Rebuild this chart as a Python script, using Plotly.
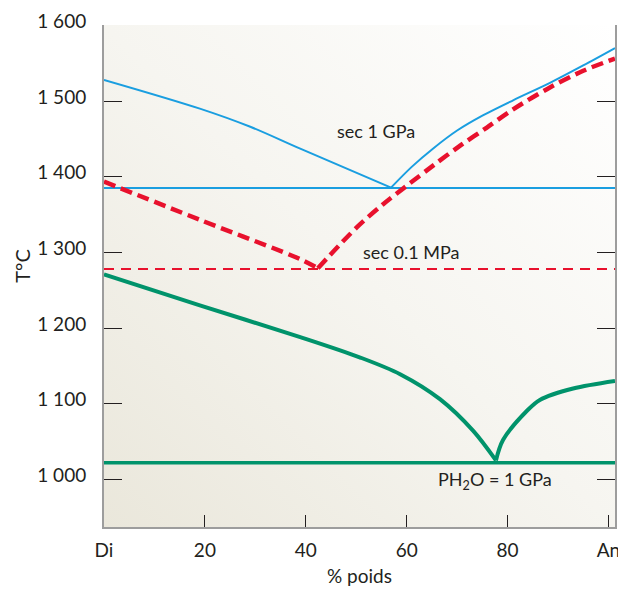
import base64
import plotly.graph_objects as go

# ---- data (x = % poids An, T = °C) ----
gpa_liq_left_x = [0, 19.0, 29.0, 38.9, 56.9]
gpa_liq_left_t = [1528, 1490, 1466, 1437, 1385.6]
gpa_liq_right_x = [56.9, 61.0, 65.2, 70.0, 75.1, 81.1, 88.4, 95.0, 101.3]
gpa_liq_right_t = [1385.6, 1413, 1437, 1461, 1481, 1501, 1524, 1547, 1570]
gpa_sol_x = [0, 101.3]
gpa_sol_t = [1385, 1385]

mpa_liq_left_x = [0, 19.0, 38.9, 42.4]
mpa_liq_left_t = [1393.5, 1343, 1291, 1279]
mpa_liq_right_x = [42.4, 50.1, 55.4, 60.0, 65.3, 70.6, 75.9, 81.1, 88.4, 95.0, 101.3]
mpa_liq_right_t = [1279, 1333, 1364, 1388, 1415, 1441, 1465, 1489, 1518, 1540, 1556]
mpa_sol_x = [0, 101.3]
mpa_sol_t = [1278, 1278]

h2o_liq_left_x = [0, 19.0, 38.9, 50.8, 58.7, 66.6, 73.2, 77.7]
h2o_liq_left_t = [1271, 1230, 1188, 1161, 1139, 1106, 1064, 1025]
h2o_liq_right_x = [77.7, 79.1, 83.9, 86.4, 93.0, 101.3]
h2o_liq_right_t = [1025, 1052, 1091, 1105, 1120, 1130]
h2o_sol_x = [0, 101.3]
h2o_sol_t = [1022, 1022]

x_tickvals = [0, 20, 40, 60, 80, 100]
x_ticktext = ["Di", "20", "40", "60", "80", "An"]
y_tickvals = [1000, 1100, 1200, 1300, 1400, 1500, 1600]
y_ticktext = ["1 000", "1 100", "1 200", "1 300", "1 400", "1 500", "1 600"]

BLUE = "#1a9ee0"
RED = "#e8112d"
GREEN = "#00936b"
TXT = "#231f20"
FONT = "Lato"

fig = go.Figure()

def add(x, y, color, width, dash="solid"):
    fig.add_trace(go.Scatter(x=x, y=y, mode="lines", line_shape="spline",
                             line=dict(color=color, width=width, dash=dash, smoothing=0.9),
                             hoverinfo="skip", showlegend=False))

add(gpa_sol_x, gpa_sol_t, BLUE, 2)
add(gpa_liq_left_x, gpa_liq_left_t, BLUE, 2)
add(gpa_liq_right_x, gpa_liq_right_t, BLUE, 2)
add(mpa_sol_x, mpa_sol_t, RED, 2, "10px,7px")
add(mpa_liq_left_x, mpa_liq_left_t, RED, 4.5, "12px,6px")
add(mpa_liq_right_x, mpa_liq_right_t, RED, 4.5, "12px,6px")
add(h2o_sol_x, h2o_sol_t, GREEN, 3.5)
add(h2o_liq_left_x, h2o_liq_left_t, GREEN, 4)
add(h2o_liq_right_x, h2o_liq_right_t, GREEN, 4)

svg = ('<svg xmlns="http://www.w3.org/2000/svg" width="100" height="100" '
       'preserveAspectRatio="none"><defs><linearGradient id="g" x1="0" y1="1" x2="1" y2="0">'
       '<stop offset="0" stop-color="#eae7db"/><stop offset="0.5" stop-color="#f6f5f0"/>'
       '<stop offset="1" stop-color="#ffffff"/></linearGradient></defs>'
       '<rect width="100" height="100" fill="url(#g)"/></svg>')
src = "data:image/svg+xml;base64," + base64.b64encode(svg.encode()).decode()

fig.add_layout_image(dict(source=src, xref="paper", yref="paper", x=0, y=1,
                          sizex=1, sizey=1, sizing="stretch", layer="below",
                          xanchor="left", yanchor="top"))

ann_font = dict(family=FONT, size=18, color=TXT)
fig.add_annotation(x=54, y=1461, text="sec 1 GPa", showarrow=False, font=ann_font)
fig.add_annotation(x=60.9, y=1300, text="sec 0.1 MPa", showarrow=False, font=ann_font)
fig.add_annotation(x=77.6, y=999, text="PH<sub>2</sub>O = 1 GPa", showarrow=False, font=ann_font)
fig.add_annotation(xref="paper", yref="paper", x=-0.161, y=0.52, text="T°C",
                   textangle=-90, showarrow=False, xanchor="center", yanchor="middle",
                   font=dict(family=FONT, size=20, color=TXT))

# page body has an 8px default margin; compensate so the plot lands where the reference has it
fig.update_layout(
    width=618, height=581,
    margin=dict(l=96, r=11, t=17, b=62, autoexpand=False),
    paper_bgcolor="white", plot_bgcolor="rgba(0,0,0,0)",
    font=dict(family=FONT, color=TXT),
    xaxis=dict(range=[0, 101.3], tickvals=x_tickvals, ticktext=x_ticktext,
               ticks="inside", ticklen=12, tickcolor=TXT, tickwidth=1,
               showline=True, linecolor="#9d9d9d", linewidth=2, mirror=False,
               showgrid=False, zeroline=False, ticklabelstandoff=5,
               automargin=False,
               tickfont=dict(family=FONT, size=19, color=TXT),
               title=dict(text="% poids", standoff=10,
                          font=dict(family=FONT, size=19, color=TXT))),
    yaxis=dict(range=[937, 1600.5], tickvals=y_tickvals, ticktext=y_ticktext,
               ticks="inside", ticklen=18, tickcolor=TXT, tickwidth=1,
               showline=True, linecolor="#9d9d9d", linewidth=2, mirror="ticks",
               showgrid=False, zeroline=False, ticklabelstandoff=12,
               ticklabelshift=-4, automargin=False,
               tickfont=dict(family=FONT, size=19, color=TXT)),
)

fig.write_html("out.html")
